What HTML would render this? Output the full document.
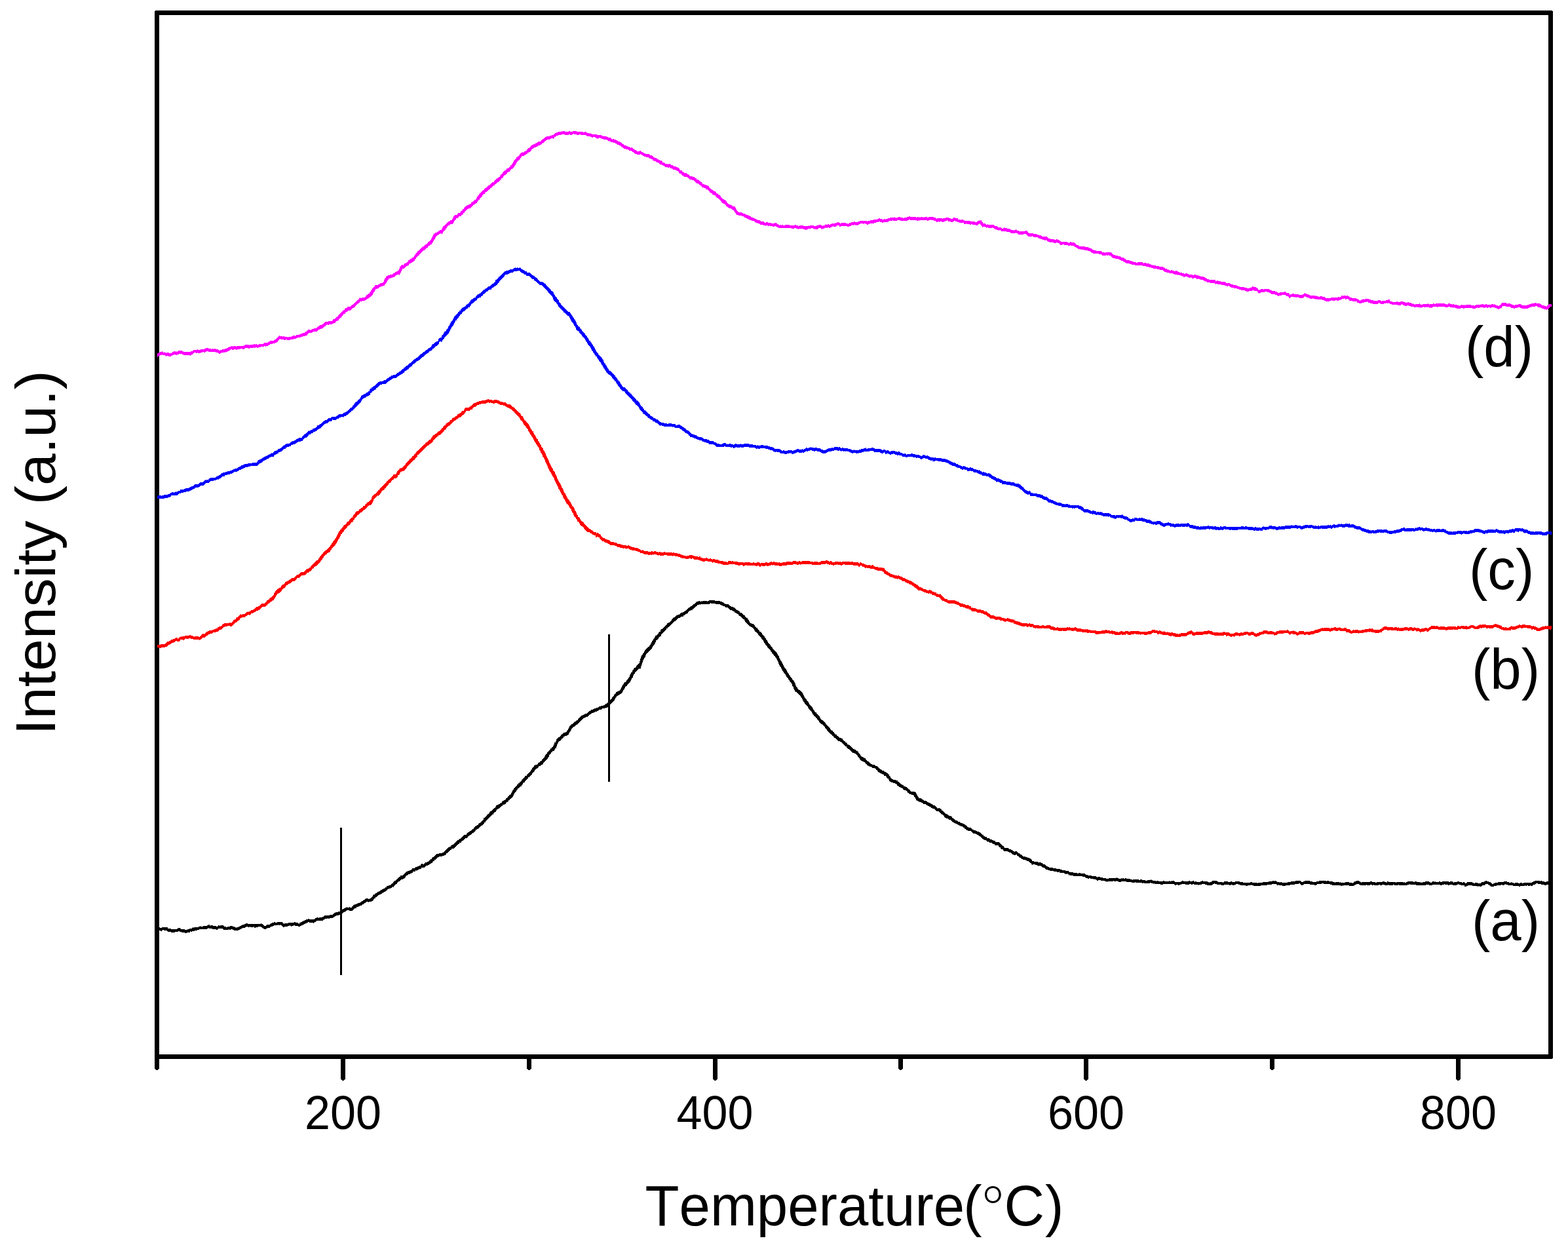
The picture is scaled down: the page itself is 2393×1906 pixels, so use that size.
<!DOCTYPE html>
<html lang="en">
<head>
<meta charset="utf-8">
<title>Intensity (a.u.) vs Temperature(°C)</title>
<style>
html, body { margin: 0; padding: 0; background: #ffffff; }
body { width: 2393px; height: 1906px; overflow: hidden; }
svg { display: block; }
text { font-family: 'Liberation Sans', Arial, Helvetica, sans-serif; fill: #000; }
text { font-kerning: none; }
.tick { font-size: 70.1px; text-anchor: middle; }
.xtitle { font-size: 85.2px; text-anchor: start; }
.deg { font-family: 'Noto Serif CJK SC', 'Noto Sans CJK SC', 'Liberation Sans', sans-serif; font-weight: 200; font-size: 97px; }
.ytitle { font-size: 87.8px; text-anchor: middle; }
.lab { font-size: 85.2px; text-anchor: start; }
</style>
</head>
<body>
<svg width="2393" height="1906" viewBox="0 0 2393 1906">
<rect x="0" y="0" width="2393" height="1906" fill="#ffffff"/>
<g id="axes" fill="#000" shape-rendering="crispEdges">
<path id="frame" fill-rule="evenodd" d="M237 16H2369V17H2370V1615H2369V1616H236V17H237ZM243 23V1609H2363V23Z"/>
<path id="tick-100" d="M236 1612H243V1631h-1v1h-1v1h-3v-1h-1v-1h-1Z"/>
<path id="tick-200" d="M520 1612H527V1647h-1v1h-1v1h-3v-1h-1v-1h-1Z"/>
<path id="tick-300" d="M804 1612H811V1631h-1v1h-1v1h-3v-1h-1v-1h-1Z"/>
<path id="tick-400" d="M1088 1612H1095V1647h-1v1h-1v1h-3v-1h-1v-1h-1Z"/>
<path id="tick-500" d="M1371 1612H1378V1631h-1v1h-1v1h-3v-1h-1v-1h-1Z"/>
<path id="tick-600" d="M1654 1612H1661V1647h-1v1h-1v1h-3v-1h-1v-1h-1Z"/>
<path id="tick-700" d="M1938 1612H1945V1631h-1v1h-1v1h-3v-1h-1v-1h-1Z"/>
<path id="tick-800" d="M2222 1612H2229V1647h-1v1h-1v1h-3v-1h-1v-1h-1Z"/>
</g>
<g id="markers" fill="#000" shape-rendering="crispEdges">
<rect x="519" y="1263" width="3" height="225"/>
<rect x="928" y="968" width="3" height="225"/>
</g>
<g id="curves" shape-rendering="crispEdges" stroke="none">
<path id="curve-a" fill="#000000" d="M240 1415h4v1h3v-1h9v2h5v1h9v-1h2v-1h3v1h1v1h6v1h4v-1h3v-1h4v-1h1v-1h1v1h1v-1h7v-1h2v-1h1v1h4v-1h6v-1h2v-1h2v2h1v-1h4v1h5v1h2v-1h1v-1h2v1h1v-1h5v1h1v1h3v1h2v-1h4v-1h4v1h3v1h2v1h1v-1h3v-1h2v-1h2v-1h2v-1h3v-1h2v-1h3v1h20v-1h1v1h2v1h1v1h1v1h3v-1h1v-1h5v-1h1v-1h2v-1h3v-1h2v1h3v-1h8v1h1v1h1v1h1v-1h6v-1h9v-1h2v1h4v1h1v1h1v-2h2v-1h2v-1h2v-1h2v-1h2v-1h3v-1h2v1h8v-1h1v-1h2v-1h3v1h1v-1h5v-1h2v-1h1v-1h8v-1h5v-1h1v-1h1v-1h2v-1h4v-1h4v-1h2v-2h1v-1h2v-1h2v-1h2v-1h1v1h3v-1h1v1h3v-2h2v-2h2v-1h3v-1h2v-1h3v-1h2v-1h1v-1h2v-1h1v-1h2v-1h1v-1h4v1h2v-1h2v-1h1v-1h1v-1h1v-2h1v-1h2v-1h1v-1h2v-1h1v-1h2v-1h2v-1h1v-1h2v-1h2v-1h2v-1h1v-1h2v-2h3v-1h3v-1h1v-1h1v-1h2v-2h1v-1h1v-1h2v-1h1v-1h1v-1h1v-1h1v-1h1v-1h2v-2h4v-1h1v-1h1v-1h1v-1h1v-1h1v-1h2v-1h3v-1h2v-1h2v-2h4v-1h1v-1h3v-1h2v-1h3v-2h1v-1h2v1h2v-1h1v-1h1v-1h3v-1h2v-1h1v-1h1v-1h1v-1h2v-2h1v-1h2v-1h1v-1h1v-1h1v-1h1v-1h4v-1h5v-1h2v-1h1v-1h1v-1h1v-1h1v-1h1v-1h1v-1h1v-1h2v-1h2v-2h2v-1h2v-1h1v-1h1v-1h1v-1h1v-1h1v-1h1v-1h2v-1h1v-1h2v-1h1v-1h1v-1h1v-1h1v-1h1v-1h4v-2h1v-1h1v-1h2v-1h1v-1h2v-1h1v-1h1v-1h2v-2h1v-1h1v-1h1v-1h2v-1h2v-2h1v-1h2v-1h1v-1h1v-1h1v-1h1v-1h1v-3h2v-1h1v-1h1v-1h1v-2h2v-1h1v-1h1v-2h1v-1h2v-1h1v-1h1v-1h1v-1h1v-1h2v-2h1v-2h2v-1h2v-1h2v-1h1v-1h2v-2h1v-1h2v-1h2v-1h1v-2h2v-1h1v-2h2v-2h2v-1h1v-2h1v-2h1v-2h1v-1h1v-2h1v-1h1v-1h1v-1h1v-1h1v-2h2v-2h2v-2h2v-1h1v-2h1v-1h1v-1h1v-1h1v-1h1v-2h3v-2h1v-1h1v-1h1v-1h1v-1h1v-1h1v-2h1v-1h1v-2h1v-1h1v-1h1v-2h2v-1h3v-1h1v-2h2v-1h1v-1h1v-1h2v-2h1v-1h1v-1h1v-1h1v-2h1v-2h1v-1h1v-1h1v-2h1v-1h1v-1h1v-1h1v-1h1v-2h2v-2h2v-2h1v-2h1v-3h2v-2h1v-3h1v-1h1v-1h1v-1h2v-1h1v-1h1v-2h2v-1h1v-1h1v-1h3v-1h2v-2h1v-1h1v-2h1v-2h1v-2h1v-1h1v-1h1v-1h2v-1h1v-1h1v-1h1v-1h2v-1h1v-1h2v-2h1v-1h1v-1h1v-1h1v-1h1v-1h2v-1h2v-1h2v-1h3v-1h1v-1h1v-1h1v-1h2v-1h1v-1h3v-1h2v-1h3v-1h3v-1h1v-1h3v-1h4v-1h2v-1h1v-1h2v-1h1v-1h1v-2h2v-1h1v-1h1v-1h1v-1h1v-2h1v-1h1v-1h1v-2h1v-1h1v-1h1v-2h2v-1h2v-1h2v-1h1v-2h1v-2h1v-2h1v-2h1v-1h1v-2h1v-1h2v-1h1v-2h1v-1h1v-1h1v-2h1v-1h1v-3h1v-2h1v-2h2v-3h1v-1h1v-2h1v-1h2v-1h1v-2h1v-1h1v-1h1v-1h1v-1h1v-3h1v-4h1v-3h1v-2h1v-1h1v-2h1v-1h1v-2h1v-2h1v-1h1v-1h1v-1h1v-1h1v-1h2v-2h1v-1h1v-2h1v-2h1v-2h1v-1h1v-2h1v-1h1v-2h1v-2h2v-1h1v-1h1v-1h1v-2h1v-1h2v-3h1v-1h2v-1h1v-1h1v-1h1v-1h1v-1h1v-1h1v-1h1v-2h2v-1h2v-1h1v-1h1v-1h1v-2h1v-1h1v-1h1v-1h2v-1h1v-1h1v-1h2v-1h3v-1h1v-1h1v-1h3v-1h2v-1h1v-1h2v-1h1v-1h1v-1h1v-1h1v-1h2v-1h1v-1h2v-1h1v-1h1v-1h2v-1h1v-1h1v-1h1v-1h3v-1h2v1h2v-1h1v1h1v-1h7v1h1v-1h2v-1h9v1h8v1h3v1h2v1h1v1h2v1h5v1h1v1h1v1h2v1h3v1h2v1h1v1h1v1h1v1h2v1h2v1h1v2h3v1h1v1h1v1h1v1h2v2h1v1h1v1h2v2h1v1h1v2h1v2h1v1h2v1h3v1h1v1h1v2h1v1h1v1h2v2h1v1h1v1h1v2h2v1h1v1h1v2h1v1h1v1h1v1h1v2h1v1h1v2h1v1h1v2h1v2h1v1h1v1h1v1h1v2h1v1h1v1h1v2h1v1h1v1h1v1h1v1h1v1h1v1h1v2h1v2h1v1h1v3h1v2h1v2h1v1h1v2h1v2h1v2h1v2h1v2h1v1h1v1h1v2h1v2h1v2h1v1h1v2h1v1h1v2h1v1h1v1h1v2h1v1h1v1h1v2h1v2h1v3h1v2h1v1h1v2h1v1h1v1h2v1h1v1h1v1h1v1h1v2h1v2h1v2h1v2h1v1h1v1h1v2h1v1h1v1h1v2h1v2h1v1h1v1h1v1h1v1h1v2h1v2h1v1h1v2h1v1h2v2h1v1h1v1h1v1h1v1h1v2h1v2h1v1h1v1h2v1h1v1h1v1h1v1h1v2h1v1h1v1h1v1h1v1h1v1h1v1h1v2h1v1h1v1h2v2h2v2h1v1h1v1h2v2h2v1h1v1h1v1h3v1h2v2h1v1h1v1h2v2h2v1h1v2h2v1h2v1h1v1h1v1h1v1h1v1h1v1h2v1h2v1h1v1h2v1h1v2h1v1h1v1h1v2h1v1h1v1h2v1h2v1h2v2h1v1h1v1h1v1h2v1h1v1h1v1h1v1h2v1h4v1h1v1h3v1h1v1h1v1h1v1h1v1h2v1h1v1h3v1h1v1h2v1h2v1h1v1h1v1h1v2h1v1h1v2h1v1h1v1h2v1h4v1h3v2h2v1h1v1h1v1h1v1h2v1h2v2h3v1h2v1h1v1h1v1h1v1h2v2h1v1h6v1h2v2h1v2h1v2h1v1h1v2h4v1h1v1h2v1h1v1h4v1h1v1h2v1h2v1h2v1h2v1h1v1h3v1h1v1h1v1h1v1h1v1h1v-1h2v1h2v1h1v2h2v1h1v1h1v1h1v1h1v1h2v1h2v1h1v1h3v1h2v2h1v1h2v1h1v1h1v1h3v1h1v1h3v1h1v1h3v1h2v1h2v1h1v1h2v2h2v1h4v1h1v1h1v1h2v1h3v1h2v1h3v1h2v1h1v1h1v1h1v1h2v2h2v1h3v2h4v1h1v1h3v1h2v1h3v2h6v1h1v1h1v1h1v1h1v1h1v1h2v2h1v1h6v1h1v1h3v1h2v1h1v1h2v1h1v-1h3v1h1v1h1v1h2v1h1v1h2v1h1v1h1v1h4v1h3v1h3v1h2v1h1v1h1v2h3v1h6v1h5v1h2v1h1v1h3v1h1v1h1v1h2v1h2v1h6v1h5v1h6v1h3v1h5v1h5v1h1v1h6v1h6v1h2v-1h3v1h7v1h1v1h3v1h6v1h7v1h1v1h1v-1h4v1h4v1h5v1h4v-1h12v-1h1v1h2v1h4v-1h1v1h1v-1h2v1h2v-1h2v1h6v1h3v1h1v-1h9v1h2v-1h3v1h5v1h3v-1h5v-1h1v1h2v1h5v1h1v-1h3v1h7v-1h2v1h7v-1h1v1h2v-1h1v1h1v-1h3v1h1v1h9v-1h2v-1h2v1h8v-1h2v1h4v-1h2v1h1v1h1v-1h2v1h6v-1h2v-1h2v1h7v1h2v1h1v-1h3v-1h1v-1h7v1h2v1h7v1h1v-1h1v-1h6v1h4v-1h2v1h5v-1h7v1h5v1h11v-1h3v1h8v1h1v-1h7v-1h9v-1h6v-1h2v1h1v-1h2v1h2v1h4v1h1v-1h2v1h9v-1h5v-1h7v-1h8v1h1v1h3v-1h2v-1h8v1h4v1h6v-1h4v-1h11v1h1v-1h3v1h6v1h3v1h1v-1h6v1h1v-1h1v1h7v-1h6v1h5v1h1v-1h1v-1h1v-1h3v-1h4v1h2v1h1v1h1v-1h13v-1h3v1h5v1h2v-1h9v-1h3v1h3v1h1v-2h2v1h11v1h1v-1h11v1h1v-1h1v1h2v-1h2v-1h9v1h2v-1h3v1h5v1h1v-1h1v1h2v-1h4v-1h6v1h2v1h2v-1h1v-1h3v1h1v-1h1v1h5v-1h2v1h3v-1h10v1h2v-1h4v1h1v1h1v-1h5v-1h3v1h4v1h2v-1h2v1h1v1h2v-1h1v-1h8v1h2v1h2v-1h4v1h5v-1h1v-1h4v-1h2v-1h2v1h3v1h3v1h1v1h1v1h2v-1h2v-1h5v-1h9v-1h5v1h3v1h3v-1h1v1h3v1h2v-1h5v1h3v-1h3v1h2v-1h13v-1h2v-1h2v-1h8v1h1v-1h2v1h4v1h3v-1h4v-1h1v1h1v-1h2v5h-4v1h-4v1h-3v-1h-5v-1h-5v-1h-3v1h-1v1h-3v1h-1v1h-3v-1h-1v1h-3v-1h-2v1h-2v-1h-1v1h-7v1h-2v-1h-9v-1h-8v-1h-3v-1h-1v1h-2v1h-2v-1h-2v1h-7v1h-4v1h-5v-1h-1v-1h-2v-1h-1v-1h-4v1h-1v1h-4v1h-1v1h-3v-1h-1v1h-1v-1h-1v1h-1v-1h-7v-1h-7v1h-2v1h-3v-2h-6v-1h-3v-1h-1v1h-2v1h-6v-1h-5v1h-2v-1h-5v-1h-1v1h-3v1h-3v-1h-12v1h-5v-1h-5v1h-15v-1h-9v-1h-1v1h-3v1h-13v-1h-1v1h-6v-1h-2v1h-7v-1h-1v1h-5v-1h-4v1h-3v-1h-2v1h-7v-1h-1v1h-2v-1h-3v1h-5v-1h-1v1h-9v-1h-2v-1h-4v1h-2v1h-2v1h-7v-1h-9v1h-1v-1h-1v1h-2v-1h-13v-1h-3v-1h-10v-1h-3v1h-7v1h-1v1h-3v-1h-7v-1h-9v1h-2v1h-2v-1h-1v-1h-1v-1h-2v1h-6v1h-7v1h-7v1h-5v-1h-5v-1h-1v1h-2v-1h-1v-1h-7v1h-7v1h-10v1h-11v-1h-3v-1h-1v1h-5v1h-3v-1h-8v-1h-3v-1h-4v1h-1v1h-1v-1h-1v1h-2v-1h-3v1h-2v-1h-8v1h-4v-1h-7v-1h-3v-1h-1v1h-2v1h-1v1h-8v-1h-3v-1h-5v1h-4v1h-1v-1h-7v-1h-2v1h-2v-1h-3v1h-6v-1h-6v1h-3v1h-2v-1h-3v1h-2v-1h-1v-1h-17v1h-4v-1h-9v-1h-1v1h-1v-1h-3v-1h-2v1h-9v-1h-1v1h-2v-1h-10v-1h-1v1h-5v-1h-8v-1h-8v1h-4v-1h-2v-1h-1v1h-4v-1h-1v1h-9v1h-1v-1h-3v-1h-6v-1h-4v1h-2v-1h-1v-1h-3v-1h-1v1h-1v-1h-4v-1h-2v1h-2v-1h-3v-1h-1v-1h-4v-1h-14v-1h-5v-1h-1v1h-1v-2h-2v-1h-1v1h-2v-1h-2v-1h-7v-2h-1v1h-3v-1h-5v-1h-6v-1h-3v-1h-3v-1h-1v-1h-1v-1h-3v-1h-1v-1h-2v-1h-2v1h-1v-1h-2v-1h-3v-1h-4v1h-1v-1h-1v-2h-2v-1h-1v-1h-1v-1h-3v-1h-2v-1h-4v-1h-2v-1h-1v-1h-2v-1h-1v-1h-1v-1h-2v-2h-2v1h-3v-1h-2v-1h-1v-1h-1v-1h-3v-1h-2v-1h-6v-1h-1v-2h-3v-1h-1v-2h-2v-1h-1v-2h-6v-2h-3v-1h-1v-1h-4v-1h-1v-1h-1v1h-1v-1h-1v-1h-1v-1h-3v-1h-2v-1h-1v-1h-1v-1h-1v-1h-1v-1h-2v-1h-1v-1h-2v-1h-2v-1h-4v-1h-1v-1h-1v-1h-1v-1h-5v-1h-2v-1h-1v-1h-2v-2h-2v-1h-1v-1h-3v-1h-2v-1h-2v-1h-2v-1h-2v-1h-2v-1h-2v-1h-1v-1h-1v-1h-1v-1h-3v-1h-1v-1h-3v-1h-2v-1h-1v-2h-1v-1h-1v-1h-2v-1h-1v-1h-1v-1h-1v-1h-1v-1h-4v-1h-1v-1h-1v-1h-1v-1h-3v-1h-2v-1h-1v-1h-2v-1h-2v-1h-2v-1h-1v-1h-4v-1h-1v-1h-2v-1h-3v-1h-2v-1h-2v-1h-1v-2h-1v-2h-1v-1h-1v-2h-1v-1h-3v-1h-3v-1h-1v-1h-2v-2h-1v-1h-1v-1h-3v-1h-2v-2h-2v-1h-2v-1h-2v-1h-1v-1h-2v-2h-1v-1h-2v-1h-3v-1h-3v-1h-2v-1h-1v-2h-1v-2h-2v-1h-1v-2h-1v-1h-3v-2h-2v-1h-2v-1h-2v-1h-2v-1h-1v-1h-1v-2h-2v-2h-2v-1h-4v-1h-1v-1h-3v-1h-2v-1h-2v-2h-2v-2h-1v-1h-2v-1h-2v-1h-2v-1h-1v-1h-1v-2h-1v-1h-1v-1h-1v-2h-1v-1h-1v-1h-1v-1h-2v-1h-3v-1h-1v-1h-1v-1h-1v-1h-1v-1h-1v-1h-2v-1h-1v-1h-1v-2h-2v-1h-1v-1h-1v-1h-1v-1h-1v-1h-1v-1h-1v-1h-2v-1h-3v-1h-1v-1h-1v-1h-1v-1h-1v-1h-2v-1h-1v-2h-2v-2h-2v-1h-1v-1h-1v-1h-1v-1h-1v-1h-1v-1h-1v-2h-1v-1h-1v-1h-1v-2h-1v-1h-1v-1h-1v-1h-1v-1h-2v-1h-1v-1h-1v-1h-1v-2h-1v-1h-1v-1h-1v-2h-2v-2h-1v-1h-2v-2h-1v-1h-1v-2h-1v-2h-1v-1h-1v-1h-1v-1h-1v-1h-1v-2h-1v-2h-1v-1h-1v-1h-1v-1h-1v-1h-1v-2h-1v-1h-1v-2h-1v-2h-1v-2h-1v-1h-1v-2h-1v-1h-1v-1h-1v-1h-1v-1h-1v-1h-1v-1h-2v-1h-1v-2h-1v-2h-1v-3h-1v-1h-1v-3h-1v-2h-1v-1h-1v-1h-1v-2h-1v-1h-1v-2h-1v-1h-1v-1h-1v-2h-1v-2h-1v-1h-1v-1h-1v-2h-1v-1h-1v-2h-1v-2h-1v-2h-1v-1h-1v-2h-1v-2h-1v-3h-1v-2h-1v-2h-1v-2h-1v-1h-1v-2h-2v-2h-1v-1h-1v-1h-1v-2h-1v-1h-1v-2h-1v-1h-1v-1h-1v-1h-1v-1h-1v-2h-1v-1h-1v-1h-1v-2h-1v-1h-1v-2h-1v-2h-1v-1h-1v-1h-1v-2h-1v-1h-1v-1h-1v-1h-1v-1h-1v-2h-1v-1h-1v-1h-1v-1h-2v-2h-1v-2h-1v-1h-1v-1h-1v-1h-2v-1h-2v-1h-1v-1h-1v-1h-1v-1h-1v-1h-1v-1h-1v-1h-1v-2h-1v-2h-2v-1h-1v-1h-1v-1h-1v-1h-1v-1h-2v-1h-1v-2h-2v-1h-2v-1h-2v-2h-2v-1h-2v-1h-3v-1h-1v-1h-1v-1h-1v-1h-4v-1h-1v-1h-3v-1h-2v-1h-2v-1h-7v-1h-7v-1h-1v1h-1v1h-14v1h-1v-1h-1v1h-3v2h-2v1h-1v1h-1v1h-1v1h-2v2h-3v1h-2v1h-1v1h-1v2h-2v1h-2v1h-1v1h-2v2h-4v1h-1v1h-3v1h-1v1h-1v1h-1v1h-1v1h-2v1h-1v1h-1v1h-1v1h-1v1h-1v1h-1v1h-1v1h-1v1h-2v2h-2v2h-1v1h-1v1h-1v1h-1v1h-1v1h-1v1h-1v1h-1v3h-2v1h-1v1h-1v2h-1v1h-1v1h-2v3h-1v2h-1v2h-1v1h-1v1h-1v2h-1v2h-1v1h-1v1h-1v1h-1v1h-1v1h-1v1h-1v1h-1v1h-1v2h-1v3h-1v1h-1v2h-1v2h-1v3h-1v3h-1v3h-1v3h-1v1h-1v-1h-1v1h-1v1h-1v1h-1v1h-1v1h-1v1h-1v2h-1v1h-1v2h-1v3h-1v1h-1v2h-1v2h-1v2h-1v1h-1v1h-1v1h-1v1h-1v2h-2v1h-1v2h-1v2h-1v1h-1v2h-1v2h-1v1h-1v1h-2v1h-1v1h-2v1h-2v2h-1v1h-1v2h-1v2h-1v1h-1v1h-1v1h-1v1h-1v1h-1v1h-1v2h-2v1h-1v1h-1v1h-3v1h-5v1h-1v1h-4v1h-1v1h-2v1h-3v1h-2v1h-3v1h-1v1h-2v1h-1v1h-1v1h-1v1h-3v1h-2v1h-2v1h-1v1h-1v1h-1v1h-1v1h-1v1h-1v1h-1v1h-1v1h-1v1h-2v1h-1v1h-1v1h-2v1h-1v1h-1v1h-1v2h-1v2h-1v1h-1v2h-1v2h-1v1h-2v1h-3v1h-2v2h-1v1h-2v2h-1v1h-1v1h-2v1h-1v2h-1v2h-1v3h-1v3h-2v2h-1v2h-3v2h-2v2h-1v1h-1v1h-1v3h-1v1h-1v2h-1v1h-1v1h-1v1h-1v1h-1v1h-1v1h-1v2h-1v1h-2v1h-1v1h-3v2h-1v1h-1v1h-2v1h-1v1h-1v2h-1v1h-1v1h-1v1h-1v2h-1v1h-1v1h-1v1h-1v1h-2v2h-1v1h-1v1h-1v1h-1v1h-1v2h-2v1h-1v2h-1v1h-1v2h-2v1h-1v1h-1v1h-2v2h-1v1h-1v2h-1v1h-1v1h-1v2h-1v2h-1v2h-1v1h-1v1h-1v1h-2v2h-2v2h-1v1h-2v1h-1v2h-2v1h-3v2h-2v1h-1v1h-1v1h-1v1h-2v1h-2v2h-1v2h-2v1h-1v1h-1v2h-2v1h-1v1h-1v1h-1v1h-1v1h-1v1h-1v1h-1v1h-1v1h-1v1h-1v2h-2v2h-1v1h-1v1h-1v1h-2v1h-1v1h-1v1h-1v1h-1v1h-2v1h-2v2h-1v1h-1v1h-1v1h-2v1h-1v1h-1v1h-2v1h-1v1h-2v2h-1v1h-3v1h-1v1h-1v1h-1v1h-2v1h-1v2h-3v2h-2v1h-1v1h-1v1h-1v1h-1v1h-1v1h-1v1h-4v2h-2v1h-1v1h-1v1h-1v1h-1v1h-2v2h-1v1h-2v1h-3v1h-5v1h-2v1h-1v1h-1v1h-1v1h-2v2h-2v1h-1v2h-2v1h-2v1h-1v1h-2v1h-3v1h-1v1h-1v1h-5v2h-3v1h-2v1h-2v1h-1v-1h-1v2h-4v2h-2v1h-2v1h-3v1h-1v1h-2v1h-1v2h-1v1h-1v1h-2v1h-3v1h-1v1h-1v1h-2v1h-1v1h-1v2h-2v1h-1v1h-1v1h-1v2h-1v-1h-1v1h-1v1h-2v1h-3v1h-2v2h-2v1h-1v1h-2v1h-2v1h-1v1h-2v1h-2v1h-2v1h-1v1h-1v1h-2v2h-2v1h-1v2h-1v1h-2v1h-4v1h-1v-1h-3v1h-1v1h-2v1h-1v1h-2v1h-1v1h-3v1h-2v1h-3v2h-3v1h-1v1h-1v1h-1v1h-5v-1h-4v1h-1v1h-2v1h-2v1h-1v1h-1v1h-1v1h-4v1h-4v1h-2v1h-1v1h-2v1h-5v1h-2v-1h-1v1h-4v1h-2v1h-1v1h-10v1h-1v1h-2v1h-1v1h-1v-1h-6v-1h-2v1h-2v1h-2v1h-2v1h-2v1h-2v1h-2v1h-3v-1h-5v-1h-2v1h-3v1h-1v-1h-1v-1h-1v1h-3v1h-5v1h-2v-1h-1v-1h-1v-1h-2v-1h-1v1h-2v-1h-1v1h-6v1h-2v1h-3v1h-1v1h-4v1h-2v1h-3v-1h-2v-1h-1v-1h-2v-1h-4v1h-4v1h-2v-2h-1v1h-5v-1h-1v1h-3v-1h-2v1h-2v1h-4v1h-2v1h-2v1h-2v1h-7v-1h-2v-1h-3v1h-2v-1h-1v1h-8v-1h-1v-1h-7v1h-1v1h-2v-1h-6v-1h-5v-1h-1v1h-2v1h-12v1h-3v1h-4v1h-4v1h-2v-1h-1v2h-5v1h-3v-1h-5v-1h-3v-1h-2v1h-5v1h-6v-1h-5v-1h-1v-1h-5v-1h-2v1h-1v1h-2v-1h-5z"/>
<path id="curve-b" fill="#ff0000" d="M240 984h5v-1h7v-1h1v-1h1v-1h1v-1h3v-1h2v-1h1v-1h3v-1h3v-1h1v-1h3v2h1v-1h1v-1h1v-1h2v-1h1v1h1v-1h4v-1h7v-1h2v1h3v1h2v1h1v-1h6v1h2v-1h1v-1h1v-1h1v-1h1v-1h2v1h1v-1h1v-1h1v-1h1v-1h2v-1h2v-1h5v-1h3v-1h2v-1h3v-2h2v-1h3v-1h2v-2h1v-1h2v-1h8v-1h2v1h1v-1h1v-1h1v-1h1v-2h2v-1h2v-2h1v-1h2v-1h1v-1h1v-1h1v-1h1v-1h1v1h2v-1h4v-1h1v-1h1v-1h2v-1h1v1h1v-1h2v-1h1v-1h3v-1h2v-1h1v-1h1v-1h1v-1h3v-1h2v-1h1v-1h1v-1h1v-1h5v-1h1v-1h1v-1h1v-2h2v-1h2v-2h1v-1h2v-1h1v-1h1v-1h1v-1h1v-3h1v-1h1v-2h1v-1h1v-1h1v-1h1v-1h2v-1h2v-1h1v-2h1v-1h1v-1h2v-1h1v-1h1v-2h2v-1h2v-1h2v-1h1v-1h2v-1h1v-1h4v-1h1v-1h1v-1h1v-1h1v-1h3v-1h1v-1h1v-1h1v-1h5v-1h1v-1h1v-1h1v-1h1v-1h3v-1h1v-1h2v-2h1v-1h1v-1h1v-1h1v-1h1v-1h1v-1h1v-1h1v-1h1v-1h2v-1h1v-2h1v-1h1v-2h1v-1h1v-1h1v-2h2v-2h1v-1h1v-1h1v-1h2v-1h1v-1h1v-1h1v-1h1v-1h1v-1h1v-2h1v-1h1v-2h1v-1h1v-2h1v-1h1v-1h1v-2h1v-1h1v-2h1v-2h1v-2h1v-2h1v-2h1v-1h1v-2h2v-2h1v-1h1v-1h1v-2h1v-1h2v-1h1v-1h1v-2h1v-1h2v-1h1v-2h1v-1h1v-1h1v-1h2v-2h1v-2h1v-1h1v-1h1v-2h1v-1h1v-1h3v-1h1v-2h2v-1h1v-1h2v-1h1v-2h3v-2h1v-1h1v-1h1v-1h1v-1h2v-1h1v-1h1v-1h1v-1h1v-3h1v-2h1v-1h1v-1h1v-1h2v-1h1v-1h1v-2h2v-2h2v-2h1v-1h1v-1h1v-1h1v-1h1v-1h1v-1h1v-1h1v-1h1v-1h1v-1h1v-2h2v-2h2v-1h1v-1h1v-1h1v-1h1v-1h1v-1h1v-2h4v-1h1v-2h1v-2h1v-1h1v-1h1v-1h1v-2h1v1h1v-1h2v-1h1v-1h1v-1h1v-1h1v-1h1v-2h1v-1h1v-1h1v-1h1v-1h1v-1h1v-2h2v-1h1v-1h1v-2h2v-1h1v-2h2v-2h1v-1h1v-2h2v-1h1v-1h1v-1h1v-1h1v-1h1v-1h1v-1h1v-1h1v-1h1v-1h2v-2h1v-1h2v-1h1v-1h1v-1h1v-1h2v-1h1v-2h1v-1h1v-2h1v-1h2v-1h1v-1h2v-1h1v-1h1v-1h1v-1h2v-1h1v-1h1v-1h1v-2h2v-2h1v-1h1v-1h2v-2h1v-1h1v-1h2v-1h2v-2h1v-1h2v-1h1v-2h2v-1h2v-1h1v-1h2v-1h1v-2h2v-1h2v-1h2v-2h1v-1h3v-2h1v-2h1v-1h6v-1h1v-1h2v-1h1v-1h1v-1h1v-1h1v-1h3v-1h2v-1h3v-1h4v-1h6v-1h3v-1h2v1h5v1h3v-1h5v1h3v1h1v1h4v1h5v1h1v1h1v1h5v1h1v1h1v1h1v1h2v1h1v1h1v1h1v1h1v1h1v1h1v1h1v1h1v1h2v2h1v2h1v1h2v2h1v2h1v2h1v1h2v2h1v1h1v1h1v1h1v2h1v2h1v2h1v2h1v1h1v2h2v3h1v2h1v1h1v2h1v2h1v2h2v3h1v1h1v2h1v2h1v1h1v3h1v1h1v1h1v3h1v1h1v2h1v2h1v3h1v2h1v2h1v2h1v2h1v3h1v2h1v2h1v2h1v2h1v1h1v3h1v1h1v1h1v3h1v2h1v2h1v3h1v2h1v2h1v2h1v1h1v2h1v2h1v3h1v1h1v2h1v3h1v2h1v1h1v2h1v2h1v2h1v2h1v1h1v1h1v2h1v1h1v2h1v2h1v2h1v1h1v1h1v2h1v3h1v1h1v2h1v3h1v1h1v3h2v1h1v2h1v2h1v1h1v1h2v1h1v2h1v1h1v1h1v1h1v1h1v1h1v1h1v1h1v1h2v1h1v1h2v1h1v1h1v1h4v2h1v-1h2v1h1v1h2v1h1v2h1v1h1v1h1v1h3v1h1v1h3v1h3v1h1v1h1v1h5v1h4v1h1v1h5v1h3v1h6v1h2v-1h2v1h2v1h2v1h4v1h5v1h2v1h2v1h1v1h2v-1h1v1h2v1h6v1h5v-1h2v1h2v-1h3v1h3v1h2v-1h2v1h5v-1h2v1h11v1h1v-1h2v1h5v1h4v1h2v1h3v1h4v1h1v-1h4v-1h5v1h3v1h5v1h2v-1h2v2h3v1h5v-1h2v1h2v1h2v-1h2v1h2v1h1v-1h3v1h5v1h2v1h6v1h5v1h2v-2h5v1h1v-1h2v1h7v1h9v1h1v-1h9v1h4v-1h2v1h4v-1h4v1h1v1h1v-1h7v-1h3v1h3v-1h2v-1h2v1h2v-1h2v1h5v1h1v-1h2v1h4v-1h6v-1h7v1h1v-1h2v-1h5v1h4v-1h2v1h3v-1h12v1h5v1h1v-1h6v1h3v-1h2v-1h7v-1h3v1h2v1h2v-1h2v1h1v1h4v-1h6v1h1v-1h2v1h2v-1h13v1h1v-1h3v1h8v1h1v1h1v-2h2v1h2v1h3v1h2v1h3v1h1v-1h3v1h3v-1h2v2h2v1h5v1h6v1h1v-1h1v1h2v2h1v1h1v1h1v1h2v1h1v1h2v1h1v1h3v1h3v1h4v1h1v-1h2v1h2v1h3v1h1v1h3v1h2v1h2v1h2v1h3v1h2v1h1v1h2v1h1v1h2v1h2v1h1v1h1v1h1v1h3v1h2v1h1v1h4v1h2v1h3v-1h2v1h2v1h1v1h3v1h3v2h3v1h2v-1h1v1h1v1h1v1h1v1h1v1h1v1h1v1h1v1h4v2h12v1h2v1h3v1h1v1h2v1h4v1h3v1h2v1h1v-1h2v1h1v1h3v2h1v1h1v-1h1v1h4v1h2v1h6v1h4v1h1v1h4v1h1v1h1v1h2v1h1v1h1v1h5v1h2v1h8v1h2v1h4v1h4v-1h2v1h3v1h4v1h1v-1h1v2h2v1h4v1h3v1h2v1h9v1h2v-1h2v1h5v1h1v1h8v1h4v-1h3v1h4v-1h6v1h1v1h4v1h2v1h3v-1h2v1h13v-1h2v1h1v-1h2v1h7v-1h2v1h2v1h6v1h4v1h1v-1h2v1h1v-1h2v1h4v1h9v1h8v-1h6v-1h2v1h5v1h2v-1h2v1h4v1h4v1h2v-1h2v-1h3v1h4v-1h5v1h3v-1h14v1h13v-1h5v-1h1v-1h5v1h4v1h2v-1h2v1h2v1h3v-1h1v1h2v1h2v-1h1v1h4v1h1v-1h3v1h4v1h4v1h1v-1h3v-1h9v-1h1v-1h2v-1h3v-1h2v1h1v1h1v1h4v-1h12v-1h6v-1h3v1h4v1h1v1h9v1h1v-1h2v1h1v-1h3v-1h2v1h7v1h1v1h6v-1h2v-1h4v1h4v-1h3v1h1v-1h2v-1h6v1h4v-1h4v1h1v1h2v1h2v-1h3v-1h1v-1h1v1h1v-1h3v-1h1v-1h6v1h2v1h1v-1h5v1h3v1h2v-1h1v-1h4v-1h12v-1h2v1h1v1h1v1h1v-1h4v-1h1v1h3v1h2v1h3v-2h8v1h1v1h1v-1h8v-1h5v-1h2v-1h4v-1h3v-1h3v-1h2v1h1v-1h9v1h2v-1h5v-1h3v1h5v-1h1v1h2v1h4v-1h4v2h5v1h1v1h1v1h1v-1h2v-1h2v1h1v-1h5v1h5v-1h5v-1h6v-1h3v1h1v-1h2v1h1v1h10v-1h2v-1h2v-2h2v-1h5v1h9v1h2v-1h4v1h2v-1h1v1h1v1h1v-1h6v-1h5v1h3v-1h4v1h3v-1h1v1h3v1h1v-1h2v1h2v1h2v-1h5v-1h4v1h2v-1h1v-1h2v-1h1v-1h6v1h1v-1h3v1h2v1h1v-1h8v1h4v-1h13v1h2v-2h3v1h2v-1h6v1h1v-1h3v1h3v-1h2v-1h5v1h2v1h3v-1h2v-1h2v-1h2v1h1v-1h7v1h11v-1h2v-1h3v1h3v1h3v1h2v2h4v1h1v-1h2v1h4v-1h2v-1h1v-1h1v1h6v-1h3v-1h2v-1h2v1h3v-1h5v1h8v1h2v1h1v-1h2v1h3v1h2v1h2v1h1v-1h2v-1h2v-1h5v-1h2v1h1v-1h4v1h1v-1h2v5h-1v1h-2v-1h-8v1h-3v1h-3v1h-6v-1h-1v-1h-3v-1h-2v1h-2v-2h-6v-1h-7v1h-3v-1h-3v1h-3v1h-2v1h-6v-1h-1v2h-12v-1h-3v-1h-2v-1h-2v-1h-3v-1h-4v1h-1v1h-7v-1h-1v1h-3v-1h-1v-1h-1v1h-4v1h-2v-1h-1v1h-2v1h-7v-1h-2v-1h-3v1h-2v1h-4v1h-1v-1h-6v-1h-2v1h-5v1h-6v-1h-1v1h-9v1h-3v-1h-11v-1h-11v1h-2v1h-1v1h-1v1h-3v-2h-1v1h-2v1h-5v1h-2v-1h-1v-1h-3v1h-1v-1h-1v-1h-3v1h-3v-1h-4v1h-2v-1h-7v1h-7v-1h-1v1h-2v-1h-10v-1h-1v1h-4v-1h-5v1h-1v1h-2v2h-4v1h-7v-1h-5v-1h-3v1h-1v-1h-2v1h-6v1h-7v1h-1v-1h-9v1h-3v-1h-2v-1h-5v-2h-9v-1h-3v1h-4v-1h-4v1h-3v1h-2v-1h-13v1h-2v1h-2v1h-5v1h-2v1h-5v1h-4v-1h-3v1h-3v-1h-7v1h-2v1h-2v-1h-1v-1h-5v-1h-3v1h-1v1h-1v-1h-1v-1h-1v-1h-7v1h-9v1h-1v1h-3v1h-1v-1h-1v-1h-10v-1h-5v1h-4v1h-2v1h-2v1h-3v1h-2v-1h-2v-1h-1v-1h-4v1h-4v-1h-1v-1h-2v1h-4v1h-5v1h-2v-1h-6v1h-1v1h-1v-1h-3v1h-2v-1h-2v-1h-3v1h-2v-2h-3v1h-15v-1h-4v-1h-3v-1h-2v1h-8v1h-12v1h-4v-1h-1v-2h-1v1h-4v1h-2v1h-1v1h-9v1h-9v-1h-3v-1h-2v1h-3v-1h-2v-1h-9v-1h-3v-1h-2v1h-3v-2h-5v-1h-1v1h-2v1h-1v1h-6v1h-5v-1h-5v1h-1v-1h-7v-1h-2v1h-5v1h-4v-1h-2v-1h-2v2h-2v-1h-1v1h-3v-1h-2v1h-9v-1h-1v-1h-1v1h-2v-1h-5v-1h-2v1h-1v-1h-2v1h-8v1h-1v-1h-1v1h-5v-1h-1v-1h-8v-1h-1v1h-3v-1h-8v-1h-8v-1h-1v-1h-1v1h-1v-1h-1v1h-4v-1h-7v1h-6v-1h-1v1h-6v-1h-8v-1h-4v-1h-1v-1h-10v-1h-1v1h-9v-1h-1v1h-2v-1h-3v-2h-1v1h-3v-1h-3v1h-2v-1h-1v-1h-1v1h-6v-1h-3v-1h-3v-1h-3v-1h-3v-2h-5v-1h-3v-1h-4v1h-2v-1h-2v-1h-5v-1h-2v-1h-1v1h-4v-1h-2v-1h-6v-1h-1v-1h-1v-1h-2v-1h-1v-1h-1v-1h-3v-1h-2v-1h-3v-1h-6v-1h-1v-1h-7v-1h-1v-1h-1v-1h-3v-2h-1v1h-2v-1h-2v-1h-3v-1h-5v-1h-1v-1h-1v-1h-3v-1h-3v-1h-10v-1h-2v-1h-2v-1h-2v-1h-3v-1h-1v-1h-1v-1h-1v-2h-2v-1h-4v-1h-1v-1h-2v-1h-4v-2h-3v-1h-1v1h-2v-1h-3v-1h-3v-1h-2v-1h-2v-1h-5v-1h-1v-1h-1v-1h-1v-1h-2v-1h-1v-1h-1v-1h-2v-1h-1v-1h-3v-1h-1v-1h-3v-1h-2v-1h-1v-1h-4v-1h-1v-1h-2v-1h-2v-1h-2v1h-1v-1h-4v-1h-2v-1h-4v-1h-2v-1h-1v-1h-2v-1h-2v-1h-2v-1h-1v-2h-1v-1h-2v-1h-7v-1h-3v-1h-2v-1h-6v-1h-5v-1h-1v1h-2v-1h-1v-1h-3v-1h-1v-1h-2v1h-1v1h-2v-2h-8v-1h-13v-1h-2v1h-2v1h-2v-1h-5v-1h-1v1h-4v1h-2v-1h-3v-1h-1v1h-2v-1h-3v-1h-2v1h-7v1h-14v-1h-17v1h-1v-1h-2v1h-3v-1h-6v1h-9v1h-8v1h-4v-1h-7v-1h-2v1h-1v-1h-2v1h-4v1h-3v-1h-2v1h-5v-1h-1v1h-1v1h-2v-1h-1v-1h-2v1h-3v-1h-14v-1h-1v1h-2v1h-2v-1h-1v-1h-3v1h-4v-1h-4v-1h-10v1h-9v-1h-3v-1h-5v-1h-4v-1h-3v1h-1v-1h-1v-1h-6v-1h-4v1h-4v-1h-3v-1h-3v-1h-7v-1h-1v-1h-2v1h-2v-1h-3v1h-5v-1h-6v-1h-2v-1h-3v-1h-5v-1h-3v1h-1v-1h-8v-1h-5v1h-6v-1h-2v1h-1v-1h-2v-1h-5v1h-1v-1h-1v1h-2v-1h-1v1h-3v-1h-6v-1h-2v-1h-4v-1h-1v-1h-3v-1h-3v-1h-6v-1h-3v-1h-1v-1h-4v1h-1v-1h-1v-1h-1v1h-3v-1h-4v-1h-4v-1h-1v-1h-3v-1h-7v-1h-1v-1h-2v-1h-2v-1h-3v-1h-1v-1h-3v-1h-1v-1h-1v-1h-1v-1h-1v-2h-2v-1h-2v1h-2v-3h-3v-1h-2v-1h-1v-1h-2v-1h-1v-1h-4v-1h-1v-1h-1v-1h-1v-1h-1v-1h-1v-2h-1v-1h-1v-1h-2v-1h-1v-1h-1v-2h-1v-2h-1v-1h-2v-3h-1v-1h-1v-2h-1v-1h-1v-1h-1v-2h-1v-3h-1v-1h-1v-2h-1v-3h-1v-1h-1v-1h-1v-2h-1v-2h-1v-1h-1v-1h-1v-1h-1v-2h-1v-2h-1v-2h-1v-1h-1v-2h-1v-3h-1v-1h-1v-2h-1v-2h-1v-2h-1v-2h-1v-1h-1v-3h-1v-2h-1v-2h-1v-2h-1v-2h-1v-2h-1v-3h-1v-2h-1v-1h-1v-2h-1v-2h-1v-2h-1v-1h-1v-2h-1v-2h-1v-2h-1v-3h-1v-2h-1v-2h-1v-2h-1v-3h-1v-2h-1v-2h-1v-1h-1v-3h-1v-2h-1v-1h-1v-3h-1v-1h-1v-3h-1v-2h-1v-1h-1v-2h-1v-1h-1v-2h-1v-1h-1v-2h-1v-2h-1v-2h-1v-2h-1v-1h-1v-2h-1v-1h-1v-2h-1v-2h-1v-1h-1v-3h-1v-1h-1v-1h-1v-2h-1v-1h-1v-1h-1v-1h-1v-2h-1v-2h-1v-2h-2v-1h-1v-2h-1v-2h-1v-1h-1v-1h-1v-1h-1v-1h-1v-1h-1v-1h-1v-1h-1v-2h-2v-1h-1v-1h-1v-1h-1v-1h-2v-1h-2v-1h-2v-1h-2v-1h-1v-1h-3v-1h-5v-1h-2v-1h-2v-1h-4v1h-3v-1h-3v-1h-1v1h-2v-1h-2v1h-2v1h-8v1h-3v1h-3v1h-1v1h-1v1h-3v1h-1v1h-1v2h-3v1h-1v1h-6v2h-1v1h-1v2h-1v1h-2v1h-1v1h-1v1h-1v1h-3v1h-1v1h-1v1h-2v1h-1v1h-2v1h-1v1h-1v1h-1v1h-1v1h-1v1h-1v1h-1v1h-2v1h-1v1h-1v1h-1v2h-1v1h-2v2h-1v1h-1v1h-1v1h-1v1h-1v1h-1v1h-3v2h-2v1h-1v1h-1v1h-1v1h-1v1h-1v1h-1v2h-1v1h-1v1h-1v1h-2v1h-1v1h-1v1h-2v1h-1v1h-1v1h-1v1h-1v1h-1v1h-1v1h-1v1h-1v1h-1v1h-1v1h-1v1h-1v1h-1v1h-2v3h-1v1h-1v1h-1v1h-1v2h-2v1h-1v1h-1v1h-1v1h-1v1h-1v1h-1v1h-1v1h-1v1h-1v1h-1v2h-1v2h-2v2h-2v1h-3v1h-2v2h-1v2h-1v1h-2v3h-1v1h-1v1h-4v2h-2v1h-1v1h-1v2h-1v1h-2v1h-1v2h-1v1h-1v1h-1v1h-1v2h-2v2h-1v1h-2v1h-1v1h-1v2h-1v1h-1v2h-2v2h-1v-1h-1v1h-1v1h-1v1h-1v1h-1v1h-1v1h-1v3h-1v2h-1v2h-1v1h-1v1h-3v1h-2v2h-1v1h-1v1h-1v1h-1v1h-2v1h-1v1h-1v1h-1v1h-2v1h-1v1h-1v1h-1v1h-2v2h-1v1h-1v1h-1v1h-1v2h-1v1h-1v2h-1v1h-2v1h-1v2h-1v1h-1v1h-2v1h-1v2h-1v1h-1v1h-1v1h-1v1h-1v2h-1v1h-1v1h-1v2h-2v3h-1v2h-1v2h-1v1h-1v2h-1v2h-1v2h-1v1h-1v2h-1v1h-1v1h-1v1h-1v1h-1v1h-1v2h-1v1h-1v2h-1v1h-2v1h-2v2h-2v1h-1v1h-1v1h-1v2h-1v1h-1v2h-1v1h-1v1h-1v2h-1v1h-1v1h-1v1h-1v1h-1v1h-1v1h-2v1h-2v2h-1v1h-2v2h-1v1h-1v1h-2v1h-1v1h-3v2h-1v1h-2v1h-5v1h-1v1h-1v1h-1v1h-4v2h-1v1h-1v1h-1v1h-4v1h-1v1h-1v1h-2v1h-2v1h-1v1h-2v1h-1v2h-1v1h-1v1h-2v1h-1v1h-1v2h-1v1h-1v1h-1v1h-2v1h-2v2h-1v1h-1v2h-1v2h-1v1h-1v2h-2v1h-1v1h-2v1h-1v1h-1v1h-2v1h-1v2h-2v1h-1v1h-5v1h-1v1h-1v1h-1v1h-1v1h-2v1h-3v1h-1v1h-2v1h-2v1h-3v2h-2v1h-1v-1h-2v1h-1v1h-2v1h-1v1h-5v1h-2v1h-1v2h-1v1h-2v1h-1v1h-1v1h-2v1h-1v1h-1v1h-1v1h-1v1h-1v1h-3v-1h-4v1h-4v1h-2v1h-1v1h-1v1h-1v1h-3v1h-1v1h-1v1h-3v1h-5v1h-1v1h-4v1h-2v1h-1v1h-2v1h-1v1h-1v1h-4v1h-1v1h-1v1h-2v1h-1v-1h-9v-1h-4v-1h-3v1h-4v-1h-1v1h-1v1h-1v1h-2v-1h-4v2h-1v1h-4v-1h-2v1h-1v1h-2v1h-3v1h-1v1h-2v1h-2v1h-1v1h-1v1h-3v1h-6v1h-4v-1h-2z"/>
<path id="curve-c" fill="#0000ff" d="M240 757h1v-1h5v1h1v-1h3v-1h6v-1h3v-1h1v-1h2v-1h3v1h1v-1h2v-1h1v1h1v-1h2v-1h3v-2h6v-1h2v-1h5v-1h2v-1h2v-1h3v-1h1v-1h1v-1h6v-1h1v-1h1v-1h5v-1h1v-1h1v-1h1v-1h1v1h1v-1h2v1h1v-2h1v-1h2v-1h8v-1h1v-1h2v-1h2v-1h2v-1h1v-1h1v-1h2v-1h4v-1h3v-1h4v-1h3v-1h2v-1h2v-1h4v-1h1v-1h2v-1h2v-1h1v-1h3v-1h2v-1h5v-1h7v-1h7v-1h1v-2h1v-1h2v-1h2v-1h2v-1h1v-1h2v-1h2v-1h2v-1h2v-1h2v-1h2v-1h1v-1h1v1h1v-1h1v-1h1v-1h1v-1h3v-1h2v-2h3v-1h2v-1h1v-1h1v-1h1v-1h2v-1h1v-1h2v-1h5v-1h1v-1h1v-1h2v-1h3v-1h2v-1h1v-1h2v-1h2v-1h5v-2h1v-1h1v-1h1v-1h1v-1h2v-1h1v-1h1v-1h1v-1h1v-1h1v1h1v-1h1v-1h3v-2h3v-1h2v-1h1v-1h1v-2h3v-1h1v-1h2v-1h1v-1h1v-1h1v-1h1v-1h2v-1h3v-1h1v-1h1v-1h4v-1h1v-1h7v-1h1v-1h2v-1h1v-1h6v-1h1v-1h2v-1h2v-1h2v-1h1v-1h1v-1h1v-1h1v-1h1v-1h2v-1h1v-2h1v-1h1v-1h1v-2h1v-1h1v-1h2v-1h1v-2h2v-1h1v-1h1v-2h1v-2h1v-1h2v-1h2v-1h2v-1h1v-1h2v-1h1v-1h2v-3h1v-1h2v-2h2v-1h1v-1h2v-1h1v-1h1v-1h1v-1h1v-1h1v-1h2v-1h5v-1h2v-1h3v-1h1v-1h1v-1h2v-1h1v-1h2v-1h1v-1h3v-1h4v-1h1v-1h1v-1h2v-1h1v-1h2v-1h1v-1h1v-1h1v-1h2v-2h2v-1h1v-1h1v-1h2v-1h1v-1h1v-1h1v-1h2v-1h1v-1h1v-1h1v-1h1v-1h1v-1h2v-1h1v-1h2v-1h1v-1h1v-1h1v-1h1v-1h1v-1h2v-1h1v-1h1v-1h2v-1h1v-1h1v-1h2v-1h1v-1h1v-1h2v-1h2v-2h1v-2h1v-1h2v-1h1v-1h1v-1h2v-1h2v-1h1v-3h1v-1h2v-1h2v-3h1v-1h1v-1h1v-2h1v-2h2v-1h1v-2h1v-1h1v-1h1v-3h1v-1h1v-2h1v-2h1v-2h1v-1h1v-1h1v-2h1v-2h1v-2h1v-1h1v-1h1v-1h1v-1h1v-1h1v-2h2v-2h2v-2h1v-1h1v-1h1v-1h2v-1h2v-1h1v-2h2v-1h1v-1h2v-2h1v-1h1v-2h1v-1h2v-1h1v-1h2v-1h2v-2h1v-1h1v-1h1v-1h2v-1h2v-1h1v-1h1v-1h1v-1h1v-1h1v-1h2v-1h1v-1h2v-1h1v-1h1v-1h3v-1h1v-1h1v-1h1v-1h2v-1h1v-1h1v-1h1v-3h2v-1h1v-1h1v-1h1v-2h2v-1h1v-1h1v-1h1v-1h1v-1h1v-1h1v-1h1v-1h2v-1h4v-1h2v-1h5v-1h1v-1h2v-1h1v1h2v-1h1v1h3v-1h1v1h1v1h1v1h2v1h2v1h1v1h3v2h5v1h1v1h1v1h1v1h2v1h2v2h2v1h2v2h1v1h1v1h1v1h1v1h4v1h2v1h1v1h2v2h1v1h1v1h1v1h1v1h1v1h1v1h1v1h1v2h2v1h1v1h1v3h1v1h1v2h1v1h1v1h1v2h1v1h1v1h1v3h1v1h1v1h1v2h1v1h1v1h1v1h1v1h1v1h1v1h1v1h1v1h1v1h1v1h1v1h3v2h1v1h1v2h1v1h1v2h1v1h1v2h1v1h1v2h1v2h1v3h1v1h1v2h2v1h1v2h1v1h1v1h1v2h1v1h1v1h1v1h1v1h1v2h1v1h1v1h1v2h1v1h1v2h1v2h2v2h1v1h1v2h1v1h1v2h1v1h1v2h1v2h1v2h1v2h1v1h1v1h1v2h1v1h1v1h1v1h1v1h1v1h1v2h1v1h1v3h1v2h1v1h1v2h1v1h1v2h1v2h1v1h1v2h1v1h2v1h1v1h1v1h1v1h1v1h1v1h1v1h1v2h1v1h1v1h1v2h1v1h1v2h2v2h1v2h1v1h1v2h1v1h1v1h3v1h1v2h2v1h1v2h1v1h1v1h2v2h2v2h1v1h1v1h1v1h1v1h1v1h1v1h1v2h2v1h1v1h1v1h1v2h1v2h1v2h2v1h1v2h1v1h1v2h2v1h1v1h1v1h1v1h1v1h1v1h2v2h1v1h2v1h2v2h3v1h1v1h3v1h1v1h1v1h1v1h2v1h4v1h5v1h2v-1h5v1h6v2h3v-1h4v1h1v1h2v1h1v1h2v1h1v1h2v2h2v1h2v1h1v1h1v1h1v1h1v1h2v1h3v1h3v1h1v1h2v1h5v1h2v1h1v1h5v1h3v1h1v1h6v1h1v1h3v1h1v1h4v1h4v-1h2v-1h4v2h1v-1h1v1h2v-1h4v1h3v1h1v-1h2v-1h2v1h6v-1h1v1h4v-1h8v1h6v1h5v1h2v-1h1v1h4v-1h4v1h7v1h3v1h4v1h2v1h1v1h8v1h2v1h1v1h2v-1h2v1h5v-1h7v1h2v-1h3v-1h2v-1h3v1h5v-1h1v1h2v-1h2v-1h1v-1h2v1h2v-1h3v-1h1v1h4v1h1v-1h4v1h5v1h1v1h3v1h4v-1h2v-1h2v-1h5v-1h2v1h1v-1h1v-1h6v1h1v-1h2v1h1v1h2v-1h2v1h7v1h4v1h2v1h3v-1h1v1h7v-1h3v-1h4v-1h3v-1h1v2h2v-1h6v-1h3v1h2v1h9v1h2v1h2v-1h3v1h1v1h1v-1h3v1h1v1h3v-1h6v1h3v1h1v-1h3v1h1v1h3v1h2v1h1v-1h2v1h1v1h1v-1h6v-1h3v1h4v1h6v1h2v1h2v-1h2v-1h2v1h2v1h1v-1h2v1h2v1h2v1h5v1h1v-1h2v1h9v1h6v1h3v1h2v1h2v1h2v1h2v1h4v1h1v1h3v1h1v1h3v1h2v1h2v-1h2v1h2v1h3v1h3v-1h2v1h3v1h1v1h4v1h3v1h1v-1h1v1h1v1h2v1h1v1h1v-1h2v1h3v1h2v1h1v-1h2v1h2v1h1v1h1v1h2v1h2v1h2v1h1v1h4v1h2v1h2v1h2v1h4v1h7v1h6v1h1v1h6v1h2v1h1v1h1v1h1v1h2v2h1v1h1v1h1v1h2v1h2v1h1v-1h2v1h1v2h3v1h7v1h5v1h3v1h1v1h2v1h4v1h1v1h1v1h1v1h3v1h3v1h2v1h2v1h2v1h6v1h2v1h4v1h1v-1h4v1h3v1h14v1h3v1h2v1h1v1h1v2h7v1h2v1h2v1h2v-1h3v1h3v2h1v-1h4v1h1v-1h2v1h2v1h10v1h2v1h1v1h6v1h1v-1h9v-1h1v1h1v1h2v1h4v1h2v2h2v1h4v-1h2v1h1v-2h4v1h3v-1h2v1h1v-1h3v1h3v1h3v1h5v1h2v1h1v1h7v-1h6v1h1v1h2v1h1v1h1v-1h1v1h1v-1h4v-1h2v1h3v1h5v1h2v-1h6v1h1v-1h11v-1h2v1h1v1h1v1h5v1h4v1h5v1h2v-1h2v1h1v-1h8v-1h2v1h7v1h1v-1h3v1h5v1h1v-2h2v1h3v-1h4v1h23v-1h4v1h2v-1h3v1h9v1h3v-1h2v1h7v1h1v-1h1v-1h2v-1h1v1h7v-1h1v-1h4v1h6v1h4v-1h3v1h1v-1h6v-1h10v-1h1v1h4v-1h3v1h6v1h3v-1h3v-1h6v1h1v-1h5v1h3v1h1v-1h2v1h2v-1h2v1h2v-1h11v-1h2v1h1v-1h2v1h2v-1h2v-1h2v1h4v-1h2v-1h1v1h3v-1h1v1h5v-1h4v1h1v-1h2v1h1v1h1v-1h4v1h2v1h2v1h6v1h1v1h2v1h3v1h3v1h4v1h3v1h1v-1h4v1h1v-1h3v-1h9v1h1v-1h6v1h1v1h9v-1h4v-1h5v-1h2v-1h3v-1h3v1h1v1h1v-1h12v1h1v-1h1v-1h1v1h1v-1h3v-1h2v1h5v1h3v-1h3v1h4v1h4v1h1v-1h3v1h2v-1h6v1h2v-1h4v1h3v2h3v1h6v1h1v-1h7v-1h7v1h1v-1h7v1h1v-1h3v-1h6v-1h1v-1h8v1h3v1h3v1h2v-1h4v-1h10v1h1v-1h2v-1h2v1h2v1h6v1h1v-1h2v1h1v-1h6v-1h4v-1h3v1h1v-1h1v-1h9v1h1v-1h2v1h2v1h5v1h1v1h3v1h6v1h1v-1h11v1h3v1h1v-1h3v-1h8v5h-3v-1h-3v1h-1v1h-8v-1h-4v-1h-1v1h-13v-1h-3v-1h-2v-1h-2v1h-1v-1h-2v-1h-1v-1h-4v-1h-1v1h-1v1h-2v-1h-4v2h-3v-1h-1v1h-5v1h-3v-1h-1v1h-2v1h-2v-1h-8v-1h-2v-1h-2v1h-12v1h-3v-1h-1v2h-3v-1h-2v-1h-3v-1h-1v1h-1v-1h-6v1h-4v1h-4v1h-8v-1h-2v1h-2v1h-1v-1h-3v-1h-1v1h-4v1h-12v-1h-2v-1h-2v-1h-2v-1h-12v1h-1v-1h-2v-1h-1v1h-3v-1h-1v1h-1v-1h-3v-1h-1v1h-1v-1h-4v1h-2v-1h-2v-1h-2v1h-1v-1h-2v1h-5v1h-4v-1h-1v1h-12v-1h-3v1h-1v1h-3v1h-5v1h-6v1h-5v-1h-3v-1h-3v-1h-1v1h-7v-1h-1v1h-4v1h-6v-1h-1v1h-6v-1h-3v-1h-3v-1h-3v-1h-2v-1h-1v-1h-6v-1h-3v-1h-1v-1h-9v-1h-4v1h-5v-1h-5v1h-5v1h-2v-1h-2v1h-1v1h-2v-1h-5v1h-9v-1h-1v1h-3v1h-1v-1h-8v-1h-2v-1h-1v1h-5v-1h-1v1h-4v1h-3v1h-3v-1h-1v-1h-3v1h-2v-1h-9v1h-9v1h-10v1h-4v-1h-1v-1h-1v1h-2v-1h-1v1h-1v-1h-4v1h-4v1h-3v-1h-3v2h-4v-1h-1v1h-5v-1h-1v1h-3v-1h-8v-1h-16v1h-9v-1h-1v1h-3v-1h-7v-1h-1v1h-1v1h-3v-1h-1v1h-5v-1h-1v1h-2v-1h-6v-1h-2v1h-2v-1h-4v1h-9v1h-1v-1h-6v-1h-5v-1h-4v-1h-1v-1h-1v-1h-1v1h-3v-1h-1v1h-5v-1h-1v1h-9v1h-2v-1h-3v-1h-1v1h-2v-1h-1v-1h-5v1h-2v1h-3v-1h-2v-1h-2v-1h-1v-1h-4v1h-3v-1h-2v1h-1v-1h-3v-1h-3v-1h-5v-1h-1v-1h-5v-1h-9v-1h-1v1h-1v1h-4v1h-4v-1h-1v-1h-2v-1h-1v-1h-4v-1h-2v-1h-4v-1h-2v1h-1v-1h-2v1h-2v1h-2v-1h-3v-1h-3v-1h-1v-1h-2v1h-1v-1h-8v-1h-2v-1h-5v-1h-1v1h-3v-1h-2v-1h-1v1h-2v-1h-4v-1h-2v-1h-7v-1h-1v-1h-1v-1h-2v-1h-1v-1h-3v-1h-1v-1h-4v1h-2v-1h-1v1h-2v-1h-6v-1h-10v-2h-5v-1h-4v-1h-2v-1h-2v-1h-3v-1h-4v-1h-1v-1h-1v-1h-1v-1h-4v-1h-2v-1h-1v-1h-3v-1h-4v-1h-2v-1h-9v-2h-1v-1h-1v1h-2v-1h-2v-1h-2v-1h-1v-1h-1v-1h-1v-1h-1v-1h-1v-1h-2v-1h-1v-1h-1v-1h-2v-1h-3v-1h-3v-1h-5v-1h-6v-1h-7v-2h-3v-1h-2v-1h-2v1h-1v-1h-1v-1h-1v-1h-2v-1h-2v-1h-2v-1h-1v-1h-2v-1h-1v-1h-4v-1h-6v-1h-1v-1h-3v-1h-2v-1h-2v-1h-5v-1h-1v-1h-4v-1h-1v1h-4v-2h-4v-1h-2v1h-2v-1h-2v-1h-1v-1h-4v-1h-2v-1h-2v-1h-4v-1h-2v-1h-2v-1h-1v-1h-2v-1h-3v-1h-6v-1h-6v-1h-4v1h-4v-2h-1v1h-2v-1h-3v-1h-1v-1h-4v-1h-3v1h-2v1h-2v-1h-1v-1h-3v-1h-1v1h-2v-1h-5v-1h-8v1h-3v-1h-5v-1h-1v-1h-4v-1h-1v1h-2v-1h-3v-1h-2v-1h-1v1h-3v1h-2v-1h-2v-1h-3v1h-2v-2h-1v-1h-1v1h-1v1h-3v-1h-2v-1h-9v-1h-1v-1h-6v1h-9v1h-3v1h-4v1h-1v-1h-1v1h-3v-1h-4v1h-2v-1h-2v-1h-2v-1h-3v-1h-1v1h-2v-1h-1v1h-2v-1h-3v1h-1v-1h-1v-1h-1v1h-3v-1h-5v1h-4v1h-5v1h-2v1h-2v1h-5v-1h-2v-1h-2v-1h-4v-1h-3v1h-2v-1h-3v-1h-3v1h-3v1h-2v-1h-1v1h-1v1h-2v1h-2v-1h-1v1h-5v-1h-3v1h-2v1h-3v1h-3v-2h-1v1h-1v-1h-1v1h-4v1h-4v-1h-6v-1h-1v-1h-5v-1h-1v1h-2v-1h-2v-1h-1v-1h-4v-1h-3v-1h-4v-1h-8v1h-3v-1h-1v1h-2v-1h-2v-1h-9v-1h-8v1h-4v-1h-1v1h-6v-1h-1v1h-2v1h-2v-1h-1v-1h-1v1h-2v-1h-8v-1h-2v1h-12v-1h-1v-1h-1v-1h-2v-1h-7v-1h-1v-1h-3v-1h-3v-1h-3v-1h-1v-1h-4v-1h-3v-1h-2v-1h-3v-1h-2v-1h-4v-2h-2v-2h-1v-1h-2v-1h-2v-1h-1v-1h-1v-1h-2v-1h-1v-1h-1v-1h-2v-1h-1v-1h-7v-1h-2v-1h-1v1h-1v-1h-13v-1h-3v-1h-2v1h-1v-1h-1v-1h-1v-1h-1v-1h-2v-1h-2v-1h-1v-1h-3v-2h-2v-1h-2v-1h-1v-1h-2v-1h-1v-2h-2v-1h-1v-1h-1v-1h-2v-1h-1v-2h-1v-1h-1v-1h-1v-1h-1v-1h-1v-2h-1v-2h-1v-1h-1v-1h-1v-1h-2v-2h-1v-1h-1v-2h-2v-1h-1v-2h-1v-1h-1v-1h-1v-1h-1v-1h-1v-1h-1v-1h-1v-1h-1v-1h-1v-1h-1v-1h-1v-2h-1v-1h-3v-1h-1v-1h-1v-1h-1v-1h-1v-2h-1v-1h-1v-1h-1v-2h-1v-1h-1v-2h-1v-2h-2v-2h-1v-1h-1v-1h-1v-1h-1v-2h-1v-1h-1v-1h-1v-1h-2v-1h-1v-1h-1v-1h-1v-1h-1v-2h-1v-1h-1v-2h-1v-1h-1v-2h-1v-2h-1v-1h-1v-2h-1v-2h-1v-1h-1v-1h-1v-2h-1v-1h-1v-2h-1v-2h-2v-2h-1v-1h-1v-2h-1v-1h-1v-2h-1v-1h-1v-2h-1v-2h-1v-2h-1v-1h-1v-1h-1v-1h-1v-2h-1v-2h-1v-1h-1v-2h-1v-2h-1v-1h-1v-1h-1v-1h-1v-1h-1v-2h-1v-1h-1v-1h-1v-1h-1v-2h-1v-1h-2v-1h-1v-1h-1v-3h-1v-2h-1v-1h-1v-2h-1v-2h-1v-1h-1v-1h-1v-2h-1v-2h-1v-2h-1v-2h-1v-1h-2v-1h-1v-1h-1v-1h-1v-1h-1v-1h-2v-2h-1v-1h-1v-1h-1v-1h-1v-1h-1v-1h-1v-1h-1v-1h-1v-2h-1v-2h-1v-1h-1v-2h-2v-1h-1v-1h-1v-2h-1v-3h-1v-2h-1v-1h-1v-1h-1v-1h-1v-1h-1v-1h-1v-1h-1v-2h-1v-1h-1v-1h-1v-1h-1v-1h-1v-1h-1v-1h-1v-1h-1v-1h-1v-1h-4v-2h-2v-1h-1v-1h-1v-1h-1v-1h-2v-1h-1v-2h-3v-1h-1v-1h-1v-1h-1v-1h-1v-1h-5v-2h-3v-1h-1v-1h-2v-1h-2v-1h-1v-1h-1v-1h-2v1h-1v-1h-1v1h-5v1h-1v1h-4v1h-2v1h-2v1h-4v1h-1v2h-1v1h-1v1h-1v1h-1v1h-1v1h-1v1h-1v1h-1v2h-1v1h-1v1h-1v2h-2v1h-1v1h-2v1h-1v1h-2v1h-1v2h-4v1h-1v1h-1v1h-2v1h-1v1h-1v1h-1v1h-2v2h-1v1h-2v2h-3v1h-2v1h-1v2h-1v1h-2v1h-1v1h-1v1h-1v1h-2v1h-1v2h-1v1h-1v2h-3v2h-2v1h-1v1h-1v1h-1v1h-2v1h-1v1h-1v2h-1v1h-2v2h-1v1h-1v2h-1v1h-1v1h-1v2h-2v2h-1v2h-1v2h-1v2h-1v1h-1v1h-1v2h-1v2h-1v2h-1v2h-1v2h-1v1h-1v1h-1v1h-1v1h-1v1h-1v1h-1v2h-1v1h-1v1h-1v2h-1v1h-1v-1h-2v1h-1v3h-1v1h-1v1h-1v1h-2v1h-1v1h-1v1h-1v1h-2v2h-1v1h-2v1h-2v2h-2v1h-1v1h-2v1h-1v1h-1v1h-1v1h-1v1h-2v1h-1v1h-1v1h-1v1h-1v1h-2v1h-2v1h-1v1h-1v1h-1v1h-2v1h-1v1h-1v2h-2v1h-1v1h-2v2h-1v1h-2v1h-1v1h-2v1h-1v2h-2v1h-1v1h-2v1h-2v1h-1v1h-2v1h-1v1h-1v1h-5v1h-2v1h-1v1h-2v1h-1v1h-2v1h-1v1h-1v1h-1v1h-6v1h-3v1h-1v1h-1v1h-1v1h-1v1h-2v2h-1v1h-2v1h-1v1h-2v2h-2v1h-1v3h-2v1h-2v1h-2v1h-1v1h-2v1h-2v1h-1v1h-1v2h-1v2h-1v1h-1v1h-1v1h-1v1h-1v1h-1v1h-1v1h-1v1h-1v1h-1v1h-1v1h-1v1h-1v1h-2v2h-2v1h-1v1h-1v1h-1v1h-2v1h-1v1h-3v1h-1v1h-1v-1h-2v1h-3v1h-1v1h-3v1h-1v1h-5v-1h-1v2h-1v1h-4v1h-1v1h-1v1h-3v1h-2v1h-1v1h-1v1h-1v1h-1v1h-1v1h-1v1h-2v1h-2v1h-1v1h-1v1h-2v1h-3v2h-3v1h-1v1h-3v2h-1v1h-1v1h-1v1h-3v1h-1v1h-1v1h-1v2h-3v1h-4v1h-2v1h-1v1h-2v1h-3v1h-3v2h-3v1h-3v1h-2v2h-3v1h-1v1h-1v1h-1v1h-2v1h-3v2h-2v1h-2v1h-2v1h-1v2h-5v1h-2v1h-1v1h-2v1h-2v1h-2v1h-2v1h-1v1h-1v1h-2v1h-2v1h-1v1h-1v1h-1v1h-11v1h-4v1h-4v1h-2v1h-2v1h-2v1h-3v1h-1v1h-2v1h-5v1h-1v1h-2v1h-3v1h-4v1h-4v2h-4v1h-1v1h-1v1h-2v1h-1v1h-1v-1h-1v1h-2v1h-4v1h-5v1h-1v1h-1v1h-5v1h-1v1h-1v1h-1v1h-5v1h-1v1h-2v1h-5v1h-1v1h-2v1h-2v1h-2v1h-2v1h-5v1h-4v1h-4v1h-3v1h-1v1h-1v1h-10v2h-2v1h-3v1h-5v1h-11z"/>
<path id="curve-d" fill="#ff00ff" d="M240 539h2v-1h2v-1h3v-1h1v1h1v1h2v-1h1v1h1v1h1v-1h4v1h4v-1h1v-1h2v-1h3v1h1v-1h1v1h1v-1h1v-1h6v1h2v1h11v-1h3v-1h1v-1h6v-1h1v1h4v-1h6v-1h2v-1h4v1h4v1h2v-1h2v1h1v-1h2v1h4v1h1v1h2v-1h3v-1h4v-1h3v-1h2v-1h2v-1h3v-1h2v1h1v-1h4v1h1v-1h11v-1h2v-1h6v1h1v-1h6v-1h2v1h1v-1h2v1h3v-1h7v-1h1v-1h6v-1h1v-1h2v-1h6v-1h1v-1h2v-1h1v-1h1v-1h1v-1h1v-1h1v-1h1v1h4v1h1v-1h2v1h5v1h1v-1h5v-1h2v-1h3v1h1v-1h1v-1h5v-1h2v-1h3v-1h3v-1h1v-1h2v-1h1v-1h1v-1h3v1h1v-1h2v-1h3v-1h4v-1h1v-1h1v-1h2v-1h1v-1h3v-1h2v-1h1v-1h1v-1h1v-1h5v-1h6v-1h1v-2h3v-1h1v-1h1v-1h1v-1h2v-2h1v-1h1v-1h1v-1h1v-1h1v-1h1v-1h1v-1h1v-1h2v-2h1v-1h3v-2h5v-1h1v-1h1v-1h2v-1h1v-1h1v-1h1v-1h1v-1h1v-1h1v-1h1v-1h2v-2h1v-1h1v1h2v-1h5v-1h1v-1h1v-2h2v-1h1v-1h2v-2h1v-1h1v-2h1v-1h1v-2h1v-1h1v-1h1v-1h1v-2h5v-1h2v-1h1v-1h4v-1h1v-1h1v-3h1v-2h1v-1h1v-2h1v-1h2v-1h3v-1h4v-1h1v-1h2v-1h1v-1h2v-1h2v-1h1v-1h1v-2h1v-3h1v-1h1v-1h1v-1h2v1h1v-2h1v-1h2v-1h2v-1h1v-1h1v-2h2v-1h1v-1h2v-1h1v-1h2v-1h1v-2h1v-1h1v-2h1v-1h1v-1h1v-2h2v-1h1v-1h1v-1h1v-1h1v-1h1v-1h1v-1h2v-1h1v-1h1v-1h2v-1h1v-1h1v-2h2v-1h1v-1h1v-1h1v-2h1v-2h1v-2h1v-2h1v-1h1v-1h1v-1h3v-1h1v-1h2v-1h1v-1h3v-2h1v-2h1v-2h2v-1h1v-1h1v-1h1v-1h1v-1h1v-1h1v-1h2v-1h1v-1h3v-2h1v-2h1v-2h1v-1h1v-1h4v-2h1v-1h3v-1h1v-2h2v-1h1v-2h2v-2h1v-1h1v-1h1v-1h2v-1h2v-1h2v-1h2v-2h1v-1h2v-1h1v-1h1v-1h2v-1h1v-2h1v-2h1v-2h2v-2h1v-1h1v-1h1v-1h1v-1h1v-1h1v-1h2v-2h1v-1h2v-1h1v-1h1v-1h1v-1h2v-1h1v-1h1v-1h1v-1h1v-1h3v-2h1v-1h1v-1h1v-1h1v-1h2v-1h1v-1h2v-2h1v-2h2v-1h1v-2h1v-1h1v-1h1v-1h2v-1h1v-2h3v-1h1v-1h1v-1h1v-2h2v-2h1v-1h1v-2h1v-2h1v-1h1v-1h1v-1h1v-2h1v-1h2v-1h1v-1h1v-2h1v-1h1v-1h2v-1h1v1h1v-1h1v-1h2v-1h2v-2h1v-1h1v-1h2v-1h1v-1h1v-2h2v-1h2v-1h2v-1h2v-1h2v-1h1v-1h4v-1h1v-1h1v-1h1v-1h2v-1h1v-1h1v-1h2v-1h5v-1h3v-1h3v-1h1v-1h1v-1h2v-1h3v-1h5v-1h1v1h1v-1h3v1h6v-1h2v1h4v-1h6v1h10v1h2v-1h2v1h2v1h3v1h1v-1h1v1h2v1h8v1h7v1h1v1h1v-1h1v1h5v1h2v1h4v1h1v1h1v1h1v-1h2v1h3v1h2v1h1v1h3v1h2v1h1v1h1v1h2v1h1v1h3v1h2v1h3v1h1v1h1v-1h2v1h1v1h1v1h2v1h2v1h1v1h4v-1h2v1h1v1h2v1h2v1h2v1h6v1h1v1h3v1h2v2h2v1h3v1h1v1h2v1h2v1h3v1h1v2h3v1h1v1h4v1h1v-1h3v1h1v1h3v1h1v1h4v1h2v1h2v1h1v2h1v1h3v2h2v1h1v1h4v1h1v1h2v1h1v1h1v1h4v1h3v1h1v1h2v2h3v1h1v1h1v1h2v1h1v1h1v2h3v1h3v1h2v1h2v2h1v1h1v1h1v1h2v1h1v1h2v1h2v1h1v2h2v1h1v1h2v1h1v1h1v2h1v1h1v1h1v1h2v1h2v1h1v1h1v2h1v1h1v1h1v1h3v1h2v1h1v1h4v2h1v2h1v2h1v1h1v1h1v1h5v1h2v1h3v1h2v1h3v1h2v1h2v1h1v1h3v1h2v1h2v1h2v1h4v1h1v1h5v1h1v1h2v-1h3v1h5v1h5v-1h3v1h1v1h2v1h1v1h1v-1h2v1h1v-1h2v1h3v-1h7v1h8v-1h2v1h3v1h2v-1h6v1h8v-1h1v1h1v-1h6v1h4v-1h3v-1h4v1h2v1h1v-1h3v-1h1v-1h1v1h2v-1h2v1h2v-1h2v-1h6v-1h3v-1h2v1h2v1h2v-1h7v1h3v1h1v-1h1v-1h3v-1h4v-1h2v1h4v-1h3v-1h11v1h1v-1h4v-1h5v-1h6v-1h2v-1h2v1h3v1h3v-1h2v1h1v-1h3v-1h3v-1h7v-1h1v1h1v1h1v-1h3v-1h3v1h4v1h2v-1h4v-1h3v-1h2v1h9v1h2v-1h2v1h1v-1h1v1h1v-1h3v1h1v-1h1v1h1v-1h4v1h2v-1h8v1h3v1h1v1h1v-1h8v1h1v-1h4v-1h5v1h3v1h3v-1h1v-1h3v1h4v2h4v1h1v-1h3v1h2v1h9v1h7v1h3v-1h1v-1h2v-1h1v1h1v-1h2v2h1v1h1v2h4v1h1v1h2v-1h1v1h9v1h1v1h4v1h1v1h5v1h1v1h2v-1h1v-1h1v1h4v1h4v1h2v1h4v1h1v-1h2v-1h1v1h1v1h3v1h9v-1h4v2h1v1h1v1h7v1h5v1h3v1h4v1h1v1h8v1h1v1h1v1h3v1h6v1h3v-1h2v1h2v1h2v1h1v1h10v1h2v1h1v-1h1v-1h2v1h5v1h1v1h1v1h1v1h3v1h1v1h9v1h5v1h2v1h3v1h1v1h2v1h4v1h8v1h1v1h4v1h1v-1h9v1h1v1h1v1h1v1h3v1h4v1h4v1h1v1h4v1h1v1h2v1h1v1h5v1h3v1h3v1h4v1h2v-1h8v1h1v1h1v-1h3v1h5v1h2v1h2v1h1v-1h1v1h4v1h5v1h6v1h2v1h1v1h3v1h1v1h1v-1h1v1h1v1h2v-1h2v1h3v1h2v-1h2v1h2v1h2v1h4v1h3v1h2v-1h3v1h2v1h6v1h2v-1h3v1h4v1h3v1h5v1h2v1h2v1h1v1h3v1h10v2h2v-1h2v1h4v1h7v1h1v1h6v1h2v1h3v1h5v1h2v1h3v1h7v1h4v1h4v-1h3v-1h1v-1h2v1h4v1h1v1h2v2h1v1h1v-1h2v-1h4v1h1v-1h8v1h2v1h2v1h5v1h3v1h1v1h3v-1h7v-1h2v1h1v1h4v1h1v2h1v-1h3v-1h3v1h7v1h6v-1h2v-1h1v-1h1v1h2v1h3v1h2v1h8v1h1v-1h1v1h3v1h2v-1h4v1h4v1h1v1h8v-1h11v-1h2v1h1v-1h2v-2h2v1h1v-1h4v1h1v-1h2v1h2v1h1v1h3v1h7v1h2v1h2v1h1v1h1v-1h2v-1h2v-1h1v1h2v-1h6v1h3v1h4v1h7v-1h4v1h1v1h1v-1h6v-1h3v-1h3v2h1v1h3v1h6v-1h2v1h4v-1h5v1h3v1h3v-1h2v1h4v1h1v1h1v-1h1v1h2v1h1v-1h6v-1h1v1h1v1h3v-1h8v-1h1v1h1v1h1v-1h5v-1h2v1h2v-1h14v1h3v1h1v-1h1v-1h3v1h3v1h1v-1h2v1h5v1h3v1h1v-1h2v-1h2v1h1v-1h1v1h1v-1h1v1h1v-1h8v1h5v1h1v-1h1v-1h8v-1h1v1h1v-1h2v1h3v-1h2v1h7v-1h3v1h1v-1h1v1h2v1h3v1h2v-1h1v-1h2v-2h1v-1h7v1h1v1h1v-1h4v1h2v1h3v1h2v-1h5v-1h4v1h2v1h8v-1h3v-1h3v-1h5v-1h2v1h6v1h2v1h1v1h4v1h3v1h1v-2h2v-1h1v-1h4v4h-2v1h-1v1h-1v1h-1v1h-2v1h-1v-1h-4v-1h-3v-1h-2v-1h-4v-1h-1v-1h-3v1h-6v1h-3v1h-2v1h-10v-1h-2v-1h-4v1h-4v1h-2v-1h-4v-1h-1v-1h-7v-1h-5v1h-1v2h-2v1h-2v1h-2v-1h-2v-1h-3v-1h-5v1h-2v-1h-3v1h-2v-1h-3v1h-2v-1h-6v1h-3v-1h-1v1h-2v1h-5v-1h-12v1h-2v-1h-4v1h-6v-1h-3v-1h-2v1h-1v-1h-4v-1h-3v1h-5v-1h-11v1h-1v-1h-6v1h-2v1h-2v-1h-1v1h-1v-1h-1v-1h-1v1h-2v-1h-1v1h-3v-1h-1v1h-3v1h-1v-1h-5v-1h-1v1h-4v-1h-5v-1h-3v-1h-3v1h-3v-1h-3v-1h-1v-1h-1v1h-1v1h-5v-1h-9v-1h-3v-1h-1v-1h-1v1h-2v-1h-1v1h-4v1h-5v-1h-2v-1h-1v1h-1v1h-8v-1h-4v-1h-3v-1h-1v-1h-1v1h-4v1h-4v1h-4v-1h-3v-2h-7v-1h-5v-2h-2v-1h-2v1h-2v-2h-1v1h-4v1h-2v1h-3v1h-3v-1h-2v1h-5v-1h-1v1h-3v1h-6v-1h-2v-1h-3v-1h-9v-1h-1v1h-1v-1h-3v-1h-1v1h-4v-1h-2v-1h-3v-1h-2v-1h-1v1h-1v1h-1v1h-6v-1h-2v-1h-1v1h-3v-1h-1v1h-1v-1h-5v1h-1v1h-2v-2h-1v-1h-3v-1h-1v-1h-6v1h-4v1h-2v-1h-1v-1h-3v-1h-6v-1h-1v-1h-2v-1h-3v-1h-4v1h-6v1h-2v1h-1v-1h-1v-1h-1v-2h-5v-1h-3v1h-5v1h-4v-1h-2v-1h-6v-1h-3v-1h-3v-1h-5v-1h-4v-1h-2v-1h-1v-1h-2v1h-2v-1h-3v-1h-5v-1h-6v-1h-2v1h-1v-1h-1v-1h-7v-1h-5v-1h-1v-1h-1v1h-1v-1h-1v-1h-2v-1h-4v-1h-3v-1h-1v1h-2v-1h-1v-1h-3v1h-3v-1h-1v-1h-1v1h-3v-1h-2v-1h-4v1h-2v-2h-1v1h-1v-1h-2v-1h-3v-1h-1v1h-1v-1h-5v-1h-2v-1h-6v-1h-4v-1h-3v-1h-1v-1h-1v-1h-5v-1h-4v-1h-6v-1h-3v-1h-4v-1h-4v-1h-5v-1h-12v-1h-5v-1h-3v-1h-5v-1h-2v-1h-2v-1h-1v-1h-3v-1h-2v-1h-2v-1h-5v-1h-4v-1h-1v-1h-1v-1h-1v-1h-3v-1h-1v1h-2v-1h-1v1h-6v-1h-1v-1h-4v-1h-9v-1h-2v-1h-1v-1h-2v-1h-3v-1h-5v-1h-5v-1h-1v1h-1v-1h-3v-1h-1v-1h-2v-1h-2v-1h-1v-1h-5v-1h-1v1h-3v-1h-6v-1h-3v1h-3v-1h-1v-2h-3v-1h-2v1h-4v-1h-2v-1h-1v1h-3v-1h-3v-1h-1v-1h-1v-1h-1v1h-2v-1h-3v-1h-3v-1h-3v-1h-1v-1h-7v-1h-1v-1h-1v1h-6v-1h-1v-1h-1v-1h-1v-1h-4v1h-8v-1h-1v-1h-2v-1h-1v1h-7v-1h-2v-1h-5v-1h-8v-1h-1v-1h-2v1h-1v-1h-3v-1h-3v-1h-1v-1h-2v-1h-1v1h-6v-1h-2v1h-1v-1h-1v-1h-4v1h-1v-2h-1v-1h-1v-1h-1v-2h-1v1h-2v1h-1v1h-3v-1h-5v-1h-2v1h-2v-1h-5v-1h-1v1h-3v-2h-7v-1h-3v-1h-3v-1h-2v1h-2v1h-3v-1h-4v-1h-1v-1h-1v1h-2v1h-3v1h-2v-1h-4v1h-1v-1h-2v1h-2v-1h-1v-1h-3v-1h-4v-1h-1v1h-3v1h-2v-1h-12v1h-1v-1h-1v1h-2v-1h-10v-1h-2v1h-2v1h-11v-1h-5v1h-6v-1h-1v1h-5v1h-2v1h-7v1h-2v-1h-3v-1h-2v1h-4v1h-3v1h-7v1h-2v1h-2v-1h-2v-1h-3v1h-1v-1h-4v1h-2v1h-2v1h-2v-1h-1v1h-1v-1h-2v1h-2v-1h-1v1h-1v1h-3v1h-3v-1h-10v1h-2v-2h-4v1h-1v1h-4v-1h-1v1h-2v1h-2v1h-2v-1h-2v1h-2v-1h-1v1h-2v1h-3v1h-1v-1h-1v-1h-4v1h-1v1h-4v-1h-1v1h-1v-1h-1v-1h-3v1h-5v1h-2v1h-2v-1h-3v-1h-7v1h-1v-1h-3v-1h-3v1h-4v-1h-20v-1h-2v-1h-2v-1h-2v1h-3v-1h-4v-1h-1v1h-2v-1h-3v1h-1v-1h-3v-1h-5v-1h-1v-1h-3v-1h-3v-1h-1v-1h-1v-1h-4v-1h-3v-1h-2v-1h-2v-1h-2v-1h-2v-1h-1v-1h-3v-1h-5v-1h-3v-1h-1v-2h-1v-1h-1v-2h-1v-1h-1v-1h-2v-1h-1v-1h-3v-1h-2v-1h-1v-1h-2v-2h-1v-1h-1v-1h-2v-1h-2v-1h-1v-2h-1v-1h-1v-1h-1v-1h-1v-1h-1v-1h-2v-1h-1v-1h-1v-2h-3v-1h-2v-2h-2v-1h-2v-2h-1v-1h-1v-1h-1v-1h-3v-2h-3v-1h-3v-2h-1v-1h-2v-1h-1v-1h-1v-1h-3v-1h-1v-1h-1v-1h-1v-1h-1v-1h-3v-1h-4v-2h-2v-1h-1v-1h-5v-1h-1v-1h-2v-1h-1v-2h-3v-1h-1v-2h-1v-1h-2v-1h-2v-1h-4v-1h-1v-1h-3v-1h-1v-1h-1v1h-2v-1h-4v-1h-1v-1h-2v-1h-2v-1h-3v-1h-1v-1h-1v-1h-3v-1h-1v-1h-3v-1h-2v-2h-2v-1h-3v-1h-1v-1h-4v-1h-3v-1h-2v-1h-1v-1h-2v-1h-1v1h-5v-1h-3v-1h-1v-1h-1v-1h-2v-1h-1v-1h-4v-1h-1v-1h-4v-1h-3v-1h-1v-1h-2v-1h-1v-1h-1v-1h-2v-1h-3v-1h-1v-1h-2v-1h-3v-1h-4v-1h-1v-1h-1v1h-1v-1h-1v-1h-2v-1h-5v-1h-3v-1h-2v-1h-1v1h-3v1h-1v-1h-1v-1h-2v-1h-3v1h-2v-1h-2v-1h-5v-1h-2v-1h-8v-1h-2v1h-4v-1h-4v-1h-1v1h-2v1h-3v-1h-2v1h-6v-1h-5v1h-5v1h-3v1h-1v1h-2v2h-1v1h-1v-1h-3v1h-2v1h-4v1h-2v1h-1v1h-1v1h-1v1h-2v1h-1v1h-1v1h-2v1h-3v1h-1v1h-2v1h-3v1h-1v1h-2v1h-1v2h-1v1h-1v1h-2v1h-2v2h-2v1h-2v1h-1v1h-4v2h-1v1h-1v2h-1v1h-1v1h-2v2h-1v1h-1v2h-1v2h-1v1h-1v2h-1v1h-1v1h-1v1h-2v1h-1v2h-1v1h-2v1h-2v2h-1v1h-1v1h-2v1h-1v1h-1v2h-1v1h-2v2h-1v1h-1v1h-1v1h-1v1h-2v1h-1v1h-1v1h-2v2h-2v1h-1v1h-1v1h-1v1h-2v2h-2v1h-1v1h-1v1h-1v1h-2v1h-1v2h-2v1h-1v1h-1v2h-1v1h-1v1h-1v1h-1v2h-2v2h-1v1h-1v2h-2v1h-1v1h-2v1h-1v1h-1v1h-1v1h-1v1h-1v1h-3v1h-2v1h-1v1h-1v1h-1v1h-1v2h-2v2h-1v1h-2v2h-4v2h-1v1h-3v2h-1v1h-1v1h-1v2h-1v2h-1v1h-4v1h-1v1h-2v1h-1v1h-1v2h-1v1h-1v2h-1v1h-2v2h-1v2h-1v1h-2v-1h-1v1h-2v1h-1v1h-2v1h-1v1h-1v2h-1v2h-1v1h-1v2h-1v2h-1v1h-1v2h-2v1h-1v1h-2v1h-1v2h-2v1h-1v1h-1v1h-1v1h-2v1h-1v1h-1v1h-1v1h-1v1h-1v1h-1v2h-2v1h-1v1h-1v1h-1v2h-1v1h-1v2h-1v1h-2v1h-1v1h-2v1h-2v1h-1v2h-2v1h-2v1h-1v1h-1v1h-1v1h-3v2h-1v2h-1v2h-1v2h-1v2h-1v-1h-3v1h-2v1h-1v1h-1v1h-3v1h-3v1h-3v2h-1v1h-1v2h-1v2h-1v1h-1v1h-1v2h-3v1h-3v1h-2v1h-1v1h-2v1h-3v2h-1v2h-1v1h-1v2h-1v2h-1v1h-1v1h-1v1h-1v1h-2v1h-1v1h-2v1h-1v1h-2v1h-4v1h-4v2h-1v1h-2v1h-1v1h-1v1h-1v1h-1v2h-2v1h-2v1h-1v1h-1v1h-1v1h-4v1h-1v1h-2v1h-1v2h-3v2h-1v1h-1v1h-1v2h-2v1h-1v1h-1v2h-2v1h-2v1h-1v2h-3v1h-2v1h-5v1h-2v-1h-1v1h-2v2h-2v1h-1v1h-1v1h-2v1h-3v1h-2v1h-1v1h-1v1h-6v1h-2v1h-5v1h-1v1h-1v2h-3v1h-4v1h-3v1h-5v1h-2v1h-4v1h-5v1h-5v-1h-2v1h-3v-1h-5v-1h-1v1h-1v1h-1v1h-1v2h-2v1h-2v1h-4v1h-4v1h-1v1h-2v1h-3v1h-1v-1h-2v1h-5v1h-4v1h-2v-1h-2v1h-2v-1h-1v1h-6v1h-2v-1h-5v1h-1v1h-3v-1h-3v1h-5v1h-2v-1h-3v1h-3v-1h-2v1h-1v1h-2v1h-2v1h-2v1h-1v-1h-1v1h-5v1h-2v1h-2v-1h-1v-1h-4v-1h-11v-1h-3v1h-2v1h-2v-1h-2v1h-3v1h-4v-1h-1v1h-2v-1h-3v1h-1v1h-1v1h-2v1h-1v1h-1v-1h-10v-1h-2v-1h-5v1h-3v1h-2v-1h-3v1h-2v1h-2v1h-4v-1h-3v1h-1v-1h-1v-1h-4v-1h-1v1h-3v1h-2v1h-1v1h-1z"/>
</g>
<g id="ticklabels">
<text class="tick" transform="translate(523.5,1723) scale(1,1.042)">200</text>
<text class="tick" transform="translate(1091.0,1723) scale(1,1.042)">400</text>
<text class="tick" transform="translate(1657.5,1723) scale(1,1.042)">600</text>
<text class="tick" transform="translate(2225.5,1723) scale(1,1.042)">800</text>
</g>
<text class="xtitle" transform="translate(0,1870.2) scale(1,1.027)"><tspan x="984.5">Temperature</tspan><tspan x="1470.2">(</tspan><tspan class="deg" x="1499.1" dy="13.7">°</tspan><tspan x="1532.6" dy="-13.7">C</tspan><tspan x="1595.1">)</tspan></text>
<text class="ytitle" transform="translate(84,843.4) rotate(-90) scale(1,0.97)">Intensity (a.u.)</text>
<text class="lab" transform="translate(2236.0,558.5) scale(1,1.017)">(d)</text>
<text class="lab" transform="translate(2242.0,898.5) scale(1,1.017)">(c)</text>
<text class="lab" transform="translate(2246.0,1050.5) scale(1,1.017)">(b)</text>
<text class="lab" transform="translate(2246.0,1434.5) scale(1,1.017)">(a)</text>
</svg>
</body>
</html>
